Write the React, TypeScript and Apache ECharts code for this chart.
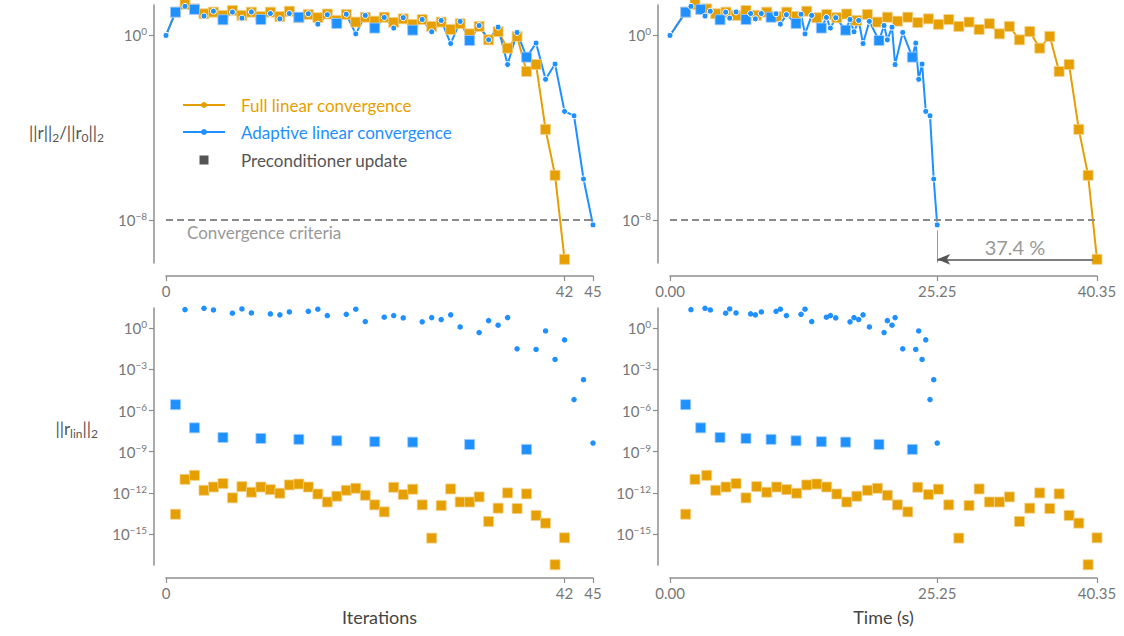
import React, { useEffect, useRef } from "react";
import * as echarts from "echarts";

const ORANGE = "#E69F00";
const BLUE = "#1E90FF";
const ORANGE_EDGE = "#f3d08a";
const BLUE_EDGE = "#9fcbff";
const FONT = "Lato";

// Full linear convergence (every iteration updates the preconditioner)
const fullIterations = [
  0, 1, 2, 3, 4, 5, 6, 7, 8, 9, 10, 11, 12, 13, 14, 15, 16, 17, 18, 19, 20, 21,
  22, 23, 24, 25, 26, 27, 28, 29, 30, 31, 32, 33, 34, 35, 36, 37, 38, 39, 40, 41, 42,
];
const fullTimes = [
  0, 1.48, 2.36, 3.47, 4.32, 5.29, 6.24, 7.18, 8.19, 9.14, 10.08, 11.03, 11.97,
  12.92, 13.87, 14.81, 15.76, 16.7, 17.65, 18.65, 19.6, 20.54, 21.49, 22.47,
  23.41, 24.42, 25.36, 26.34, 27.29, 28.26, 29.21, 30.18, 31.13, 32.07, 33.02,
  34.0, 34.94, 35.89, 36.77, 37.71, 38.63, 39.51, 40.35,
];
// log10 of ||r||2/||r0||2
const fullResidualLog10 = [
  0, 1.01, 1.34, 1.15, 0.94, 1.01, 0.87, 1.08, 0.87, 1.01, 0.82, 1.01, 0.82,
  1.05, 0.77, 0.91, 0.77, 0.93, 0.65, 0.91, 0.58, 0.79, 0.62, 0.79, 0.56, 0.72,
  0.48, 0.69, 0.39, 0.58, 0.26, 0.51, 0.07, 0.39, -0.19, 0.17, -0.55, -0.04,
  -1.56, -1.26, -4.07, -6.06, -9.7,
];
// log10 of ||r_lin||2
const fullLinearLog10 = [
  null, -13.55, -11.01, -10.72, -11.81, -11.57, -11.32, -12.36, -11.54, -11.95,
  -11.57, -11.76, -12.02, -11.42, -11.35, -11.57, -12.08, -12.66, -12.24,
  -11.81, -11.66, -12.17, -12.87, -13.38, -11.59, -12.12, -11.73, -12.87,
  -15.29, -12.92, -11.71, -12.66, -12.66, -12.29, -14.08, -13.11, -12.0,
  -13.14, -12.07, -13.64, -14.2, -17.23, -15.27,
];

// Adaptive linear convergence
const adaptiveIterations = [
  0, 1, 2, 3, 4, 5, 6, 7, 8, 9, 10, 11, 12, 13, 14, 15, 16, 17, 18, 19, 20, 21,
  22, 23, 24, 25, 26, 27, 28, 29, 30, 31, 32, 33, 34, 35, 36, 37, 38, 39, 40, 41,
  42, 43, 44, 45,
];
const adaptiveTimes = [
  0, 1.48, 1.98, 2.9, 3.31, 3.81, 4.73, 5.26, 5.64, 6.24, 7.18, 7.62, 8.07, 8.63,
  9.55, 10.02, 10.43, 11.0, 11.91, 12.38, 12.76, 13.39, 14.3, 14.78, 15.16,
  15.66, 16.6, 17.01, 17.39, 17.83, 18.24, 18.84, 19.75, 20.23, 20.54, 20.98,
  21.27, 21.99, 22.9, 23.22, 23.5, 23.82, 24.17, 24.57, 24.92, 25.25,
];
const adaptiveResidualLog10 = [
  0, 1.01, 1.26, 1.13, 0.84, 1.05, 0.68, 1.01, 0.75, 1.02, 0.69, 0.95, 0.72,
  0.95, 0.79, 0.94, 0.49, 0.9, 0.52, 0.92, 0.07, 0.87, 0.32, 0.78, 0.32, 0.77,
  0.23, 0.69, 0.16, 0.65, -0.35, 0.61, -0.22, 0.43, -0.19, 0.36, -1.26, 0.13,
  -0.94, -0.33, -1.9, -1.24, -3.29, -3.48, -6.22, -8.21,
];
const adaptiveLinearLog10 = [
  null, -5.57, 1.35, -7.26, 1.45, 1.33, -7.96, 1.09, 1.4, 1.11, -8.03, 1.04,
  0.97, 1.18, -8.1, 1.23, 1.38, 0.92, -8.2, 1.01, 1.38, 0.48, -8.27, 0.8, 0.92,
  0.75, -8.3, 0.46, 0.77, 0.63, 0.97, 0.09, -8.47, -0.32, 0.55, 0.22, 0.77,
  -1.5, -8.83, -1.55, -0.2, -2.28, -0.85, -5.2, -3.75, -8.37,
];
const adaptiveUpdates = [1, 3, 6, 10, 14, 18, 22, 26, 32, 38];

const fullUpdates = fullIterations.filter((i) => i > 0);

const iterTicks = [0, 42, 45];
const timeTicks = [0, 25.25, 40.35];
const topYTicks = [0, -8];
const bottomYTicks = [0, -3, -6, -9, -12, -15];
const convergenceLog10 = -8;
const speedupLabel = "37.4 %";

function relPoint(x: number, y: number, upd: boolean, color: string, edge: string) {
  return upd
    ? { value: [x, y], symbol: "rect", symbolSize: 10, itemStyle: { color, opacity: 1, borderColor: edge, borderWidth: 0.8 } }
    : { value: [x, y], symbol: "circle", symbolSize: 6, itemStyle: { color, opacity: 1, borderColor: "#ffffff", borderWidth: 1 } };
}
function linPoint(x: number, y: number, upd: boolean, color: string, edge: string) {
  return upd
    ? { value: [x, y], symbol: "rect", symbolSize: 10, itemStyle: { color, opacity: 1, borderColor: edge, borderWidth: 0.8 } }
    : { value: [x, y], symbol: "circle", symbolSize: 5.5, itemStyle: { color, opacity: 1 } };
}

const AXIS_COLOR = "#8e8e8e";
const LABEL_COLOR = "#777";

function xAxis(grid: number, max: number, ticks: number[], fmt: (v: number) => string, name?: string) {
  return {
    type: "value",
    gridIndex: grid,
    min: 0,
    max,
    offset: 13,
    name: name || "",
    nameLocation: "middle",
    nameGap: 30,
    nameTextStyle: { fontSize: 18, color: "#444", fontFamily: FONT },
    axisLine: { show: true, onZero: false, lineStyle: { color: AXIS_COLOR, width: 1.5 } },
    axisTick: { show: true, customValues: ticks, length: 5, lineStyle: { color: AXIS_COLOR, width: 1.2 } },
    axisLabel: { show: true, customValues: ticks, formatter: fmt, margin: 7, fontSize: 15, color: LABEL_COLOR, fontFamily: FONT },
    splitLine: { show: false },
  };
}
function yAxis(grid: number, min: number, max: number, ticks: number[]) {
  return {
    type: "value",
    gridIndex: grid,
    min,
    max,
    offset: 12,
    axisLine: { show: true, onZero: false, lineStyle: { color: AXIS_COLOR, width: 1.5 } },
    axisTick: { show: true, customValues: ticks, length: 5, lineStyle: { color: AXIS_COLOR, width: 1.2 } },
    axisLabel: {
      show: true,
      customValues: ticks,
      margin: 7,
      formatter: (v: number) => `{a|10}{b|${v === 0 ? "0" : "\u2212" + Math.abs(v)}}`,
      rich: {
        a: { fontSize: 15, color: LABEL_COLOR, lineHeight: 18, fontFamily: FONT },
        b: { fontSize: 10, color: LABEL_COLOR, lineHeight: 10, verticalAlign: "top", fontFamily: FONT },
      },
    },
    splitLine: { show: false },
  };
}

const dashedStyle = { type: [7, 4], color: "#8a8a8a", width: 2 };

export default function App() {
  const ref = useRef<HTMLDivElement>(null);
  useEffect(() => {
    if (!ref.current) return;
    const chart = echarts.init(ref.current, undefined, { renderer: "svg" });

    const fullTop = (xs: number[]) =>
      fullIterations.map((it, i) => relPoint(xs[i], fullResidualLog10[i], fullUpdates.includes(it), ORANGE, ORANGE_EDGE));
    const adaptTop = (xs: number[]) =>
      adaptiveIterations.map((it, i) => relPoint(xs[i], adaptiveResidualLog10[i], adaptiveUpdates.includes(it), BLUE, BLUE_EDGE));
    const fullBot = (xs: number[]) =>
      fullIterations
        .map((it, i) => (fullLinearLog10[i] === null ? null : linPoint(xs[i], fullLinearLog10[i] as number, true, ORANGE, ORANGE_EDGE)))
        .filter((d) => d !== null);
    const adaptBot = (xs: number[]) =>
      adaptiveIterations
        .map((it, i) =>
          adaptiveLinearLog10[i] === null ? null : linPoint(xs[i], adaptiveLinearLog10[i] as number, adaptiveUpdates.includes(it), BLUE, BLUE_EDGE)
        )
        .filter((d) => d !== null);

    const lineBase = (color: string) => ({
      type: "line",
      symbol: "circle",
      showAllSymbol: true,
      clip: false,
      lineStyle: { color, width: 2 },
      itemStyle: { color, opacity: 1 },
      emphasis: { disabled: true },
      silent: true,
    });
    const scatterBase = {
      type: "scatter",
      silent: true,
      itemStyle: { opacity: 1 },
      emphasis: { disabled: true },
    };

    const option: any = {
      animation: false,
      textStyle: { fontFamily: FONT },
      grid: [
        { left: 166, width: 427, top: 5, height: 258 },
        { left: 670, width: 427, top: 5, height: 258 },
        { left: 166, width: 427, top: 308, height: 257 },
        { left: 670, width: 427, top: 308, height: 257 },
      ],
      xAxis: [
        xAxis(0, 45, iterTicks, (v) => String(v)),
        xAxis(1, 40.35, timeTicks, (v) => v.toFixed(2)),
        xAxis(2, 45, iterTicks, (v) => String(v), "Iterations"),
        xAxis(3, 40.35, timeTicks, (v) => v.toFixed(2), "Time (s)"),
      ],
      yAxis: [
        yAxis(0, -9.86, 1.32, topYTicks),
        yAxis(1, -9.86, 1.32, topYTicks),
        yAxis(2, -17.25, 1.47, bottomYTicks),
        yAxis(3, -17.25, 1.47, bottomYTicks),
      ],
      series: [
        {
          ...lineBase(ORANGE),
          name: "Full linear convergence",
          xAxisIndex: 0,
          yAxisIndex: 0,
          data: fullTop(fullIterations),
          markLine: {
            silent: true,
            symbol: ["none", "none"],
            label: { show: false },
            lineStyle: dashedStyle,
            data: [{ yAxis: convergenceLog10 }],
          },
        },
        {
          ...lineBase(BLUE),
          name: "Adaptive linear convergence",
          xAxisIndex: 0,
          yAxisIndex: 0,
          data: adaptTop(adaptiveIterations),
        },
        {
          ...lineBase(ORANGE),
          name: "Full linear convergence",
          xAxisIndex: 1,
          yAxisIndex: 1,
          data: fullTop(fullTimes),
          markLine: {
            silent: true,
            symbol: ["none", "none"],
            label: { show: false },
            lineStyle: dashedStyle,
            data: [
              { yAxis: convergenceLog10 },
              [
                { coord: [adaptiveTimes[adaptiveTimes.length - 1], -8.45], lineStyle: { type: "solid", color: "#999", width: 1 } },
                { coord: [adaptiveTimes[adaptiveTimes.length - 1], -9.84] },
              ],
              [
                {
                  coord: [39.95, fullResidualLog10[fullResidualLog10.length - 1]],
                  symbol: "none",
                  lineStyle: { type: "solid", color: "#555", width: 1.5 },
                  label: {
                    show: true,
                    position: "middle",
                    formatter: speedupLabel,
                    fontSize: 20,
                    color: "#999",
                    fontFamily: FONT,
                    distance: 2,
                  },
                },
                {
                  coord: [adaptiveTimes[adaptiveTimes.length - 1], fullResidualLog10[fullResidualLog10.length - 1]],
                  symbol: "arrow",
                  symbolSize: [8, 13],
                },
              ],
            ],
          },
        },
        {
          ...lineBase(BLUE),
          name: "Adaptive linear convergence",
          xAxisIndex: 1,
          yAxisIndex: 1,
          data: adaptTop(adaptiveTimes),
        },
        { ...scatterBase, xAxisIndex: 2, yAxisIndex: 2, data: fullBot(fullIterations) },
        { ...scatterBase, xAxisIndex: 2, yAxisIndex: 2, data: adaptBot(adaptiveIterations) },
        { ...scatterBase, xAxisIndex: 3, yAxisIndex: 3, data: fullBot(fullTimes) },
        { ...scatterBase, xAxisIndex: 3, yAxisIndex: 3, data: adaptBot(adaptiveTimes) },
      ],
      graphic: [
        // legend
        { type: "line", shape: { x1: 183, y1: 105, x2: 225, y2: 105 }, style: { stroke: ORANGE, lineWidth: 2 } },
        { type: "circle", shape: { cx: 204, cy: 105, r: 3 }, style: { fill: ORANGE } },
        {
          type: "text",
          x: 241,
          y: 105,
          style: { text: "Full linear convergence", fill: ORANGE, fontSize: 17, fontFamily: FONT, verticalAlign: "middle" },
        },
        { type: "line", shape: { x1: 183, y1: 132, x2: 225, y2: 132 }, style: { stroke: BLUE, lineWidth: 2 } },
        { type: "circle", shape: { cx: 204, cy: 132, r: 3 }, style: { fill: BLUE } },
        {
          type: "text",
          x: 241,
          y: 132,
          style: { text: "Adaptive linear convergence", fill: BLUE, fontSize: 17, fontFamily: FONT, verticalAlign: "middle" },
        },
        { type: "rect", shape: { x: 199.5, y: 155.5, width: 9, height: 9 }, style: { fill: "#555" } },
        {
          type: "text",
          x: 241,
          y: 160,
          style: { text: "Preconditioner update", fill: "#555", fontSize: 17, fontFamily: FONT, verticalAlign: "middle" },
        },
        // convergence label
        {
          type: "text",
          x: 187,
          y: 232,
          style: { text: "Convergence criteria", fill: "#999", fontSize: 17, fontFamily: FONT, verticalAlign: "middle" },
        },
        // y axis names
        {
          type: "text",
          x: 104,
          y: 132,
          style: {
            text: "{n|||r||}{s|2}{n|/||r}{s|0}{n|||}{s|2}",
            align: "right",
            verticalAlign: "middle",
            rich: {
              n: { fontSize: 17, lineHeight: 22, fill: "#555", color: "#555", fontFamily: FONT },
              s: { fontSize: 12, lineHeight: 12, verticalAlign: "bottom", fill: "#555", color: "#555", fontFamily: FONT },
            },
          },
        },
        {
          type: "text",
          x: 98,
          y: 428,
          style: {
            text: "{n|||r}{s|lin}{n|||}{s|2}",
            align: "right",
            verticalAlign: "middle",
            rich: {
              n: { fontSize: 17, lineHeight: 22, fill: "#555", color: "#555", fontFamily: FONT },
              s: { fontSize: 12, lineHeight: 12, verticalAlign: "bottom", fill: "#555", color: "#555", fontFamily: FONT },
            },
          },
        },
      ],
    };
    chart.setOption(option);
    return () => chart.dispose();
  }, []);
  return (
    <div
      ref={ref}
      style={{ position: "fixed", left: 0, top: 0, width: 1124, height: 636, background: "#fff" }}
    />
  );
}
